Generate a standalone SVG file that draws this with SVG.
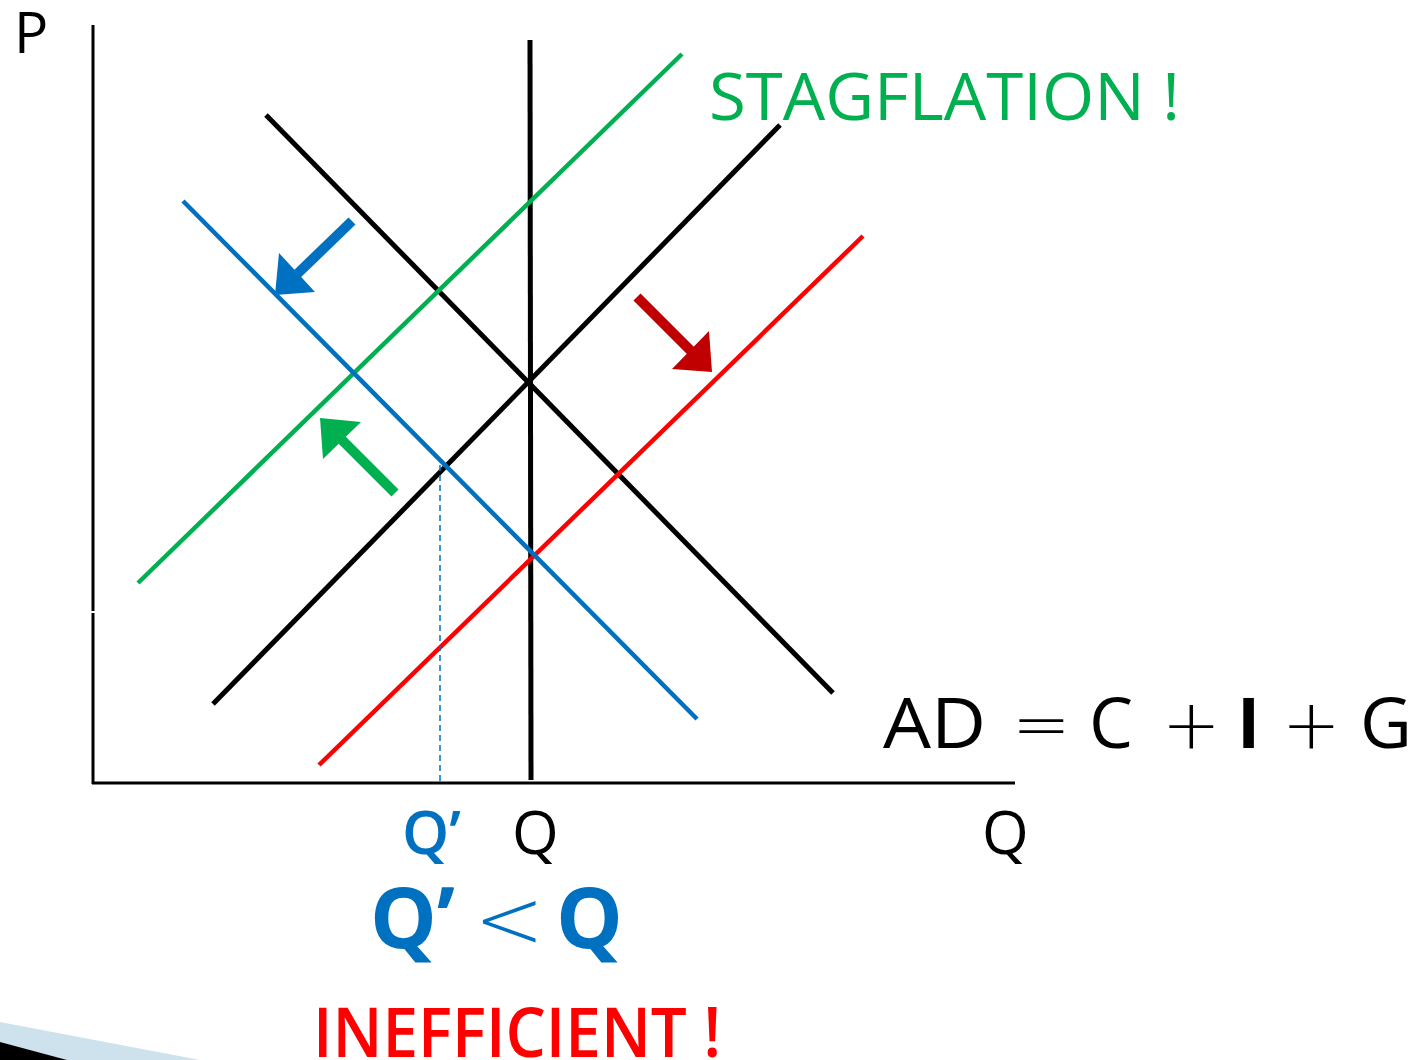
<svg xmlns="http://www.w3.org/2000/svg" width="1427" height="1060" viewBox="0 0 1427 1060">
<style>
.t{font-family:"Open Sans","DejaVu Sans",sans-serif}
.m{font-family:"DejaVu Sans","Open Sans",sans-serif;font-weight:200}
.k{stroke:#000;stroke-width:5;fill:none}
.c{stroke-width:4.5;fill:none}
</style>
<rect width="1427" height="1060" fill="#fff"/>
<g id="decor">
<polygon points="0,1022 200,1060 0,1060" fill="#cde2ec"/>
<polygon points="0,1042 67,1060 0,1060" fill="#000"/>
</g>
<g id="axes">
<line x1="93" y1="25" x2="93" y2="611" stroke="#000" stroke-width="3"/>
<line x1="93" y1="613" x2="93" y2="784" stroke="#000" stroke-width="3"/>
<line x1="92" y1="783" x2="1015" y2="783" stroke="#000" stroke-width="3"/>
</g>
<g id="connectors">
<line id="lras" class="k" x1="530" y1="40" x2="531" y2="780"/>
<line id="ad" class="k" x1="266" y1="115" x2="833" y2="693"/>
<line id="as" class="k" x1="213" y1="704" x2="780" y2="125"/>
<line id="as-green" class="c" stroke="#00b050" x1="138" y1="583" x2="682" y2="54"/>
<line id="as-red" class="c" stroke="#ff0000" x1="319" y1="765" x2="863" y2="236"/>
<line id="ad-blue" class="c" stroke="#0070c0" x1="183" y1="201" x2="697" y2="719"/>
<line id="qprime" stroke="#0070c0" stroke-width="1.5" stroke-dasharray="6,4" x1="440" y1="465" x2="440" y2="783"/>
</g>
<g id="arrow-blue">
<line x1="352" y1="221" x2="292" y2="279" stroke="#0070c0" stroke-width="10"/>
<polygon points="275,295 279,253 315,292" fill="#0070c0"/>
</g>
<g id="arrow-red">
<line x1="637" y1="297" x2="695" y2="355" stroke="#c00000" stroke-width="10"/>
<polygon points="712,372 709,331 672,369" fill="#c00000"/>
</g>
<g id="arrow-green">
<line x1="395" y1="493" x2="336" y2="434" stroke="#00b050" stroke-width="10"/>
<polygon points="320,418 361,422 323,459" fill="#00b050"/>
</g>
<g id="labels">
<text class="t" x="14" y="53" font-size="57" fill="#000">P</text>
<text class="t" x="709" y="120" font-size="66" fill="#00b050" textLength="471" lengthAdjust="spacingAndGlyphs">STAGFLATION !</text>
<text font-size="70" fill="#000" y="748"><tspan class="t" x="883" textLength="103" lengthAdjust="spacingAndGlyphs">AD</tspan><tspan class="m" x="1012">=</tspan><tspan class="t" x="1089">C</tspan><tspan class="m" x="1162">+</tspan><tspan class="t" font-weight="bold" x="1237">I</tspan><tspan class="m" x="1282">+</tspan><tspan class="t" x="1360" textLength="52" lengthAdjust="spacingAndGlyphs">G</tspan></text>
<text class="t" x="982" y="854" font-size="60" fill="#000">Q</text>
<text class="t" x="402" y="854" font-size="60" font-weight="600" fill="#0070c0">Q’</text>
<text class="t" x="512" y="854" font-size="60" fill="#000">Q</text>
<text font-size="84" fill="#0070c0" y="948"><tspan class="t" font-weight="bold" x="370">Q’</tspan><tspan class="m" x="474">&lt;</tspan><tspan class="t" font-weight="bold" x="556">Q</tspan></text>
<text class="t" x="313" y="1057" font-size="68" font-weight="600" fill="#ff0000" textLength="408" lengthAdjust="spacingAndGlyphs">INEFFICIENT !</text>
</g>
</svg>
